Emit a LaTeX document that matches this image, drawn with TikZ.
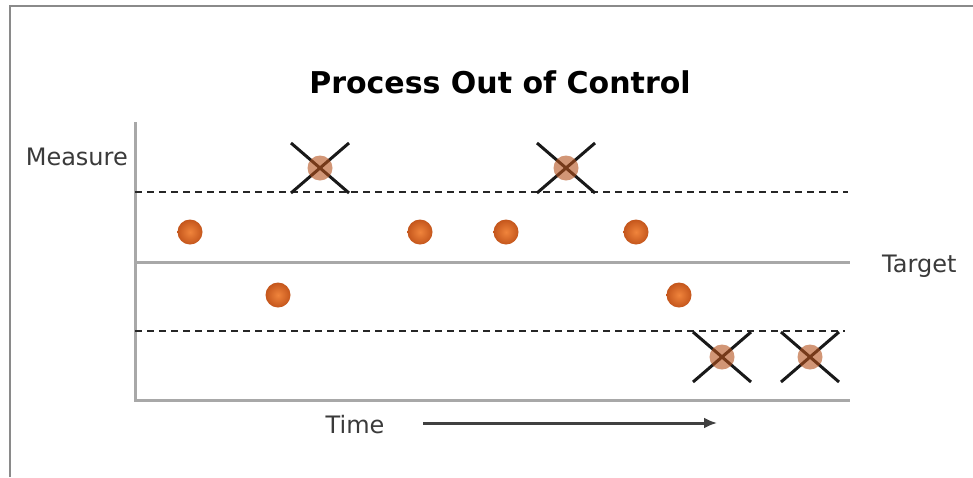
\documentclass[tikz,border=0pt]{standalone}
\usepackage{fontspec}
\setmainfont{DejaVu Sans}
\usetikzlibrary{arrows.meta}
\definecolor{framegray}{HTML}{8A8A8A}
\definecolor{axisgray}{HTML}{A8A8A8}
\definecolor{labelgray}{HTML}{3A3A3A}
\definecolor{dotcore}{HTML}{F0843C}
\definecolor{dotrim}{HTML}{C4561C}
\definecolor{faded}{HTML}{B4501C}
\tikzset{
  frameline/.style={draw=framegray, line width=2.5pt},
  axisline/.style={draw=axisgray, line width=3pt},
  limitline/.style={draw=black!85, line width=2.8pt, dash pattern=on 7pt off 5pt},
  dotnode/.style={circle, minimum size=25pt, inner sep=0pt,
    inner color=dotcore, outer color=dotrim, shading=radial},
  baddot/.style={circle, minimum size=25pt, inner sep=0pt, fill=faded, fill opacity=0.6},
  crossline/.style={draw=black!90, line width=3pt},
  axislabel/.style={text=labelgray, font=\fontsize{24}{28}\selectfont, inner sep=0pt},
  timearrow/.style={draw=black!75, line width=3pt, -{Latex[length=13pt,width=11pt]}}
}
\begin{document}
\begin{tikzpicture}[x=1pt,y=-1pt]
  \useasboundingbox (0,0) rectangle (973,477);
  \fill[white] (0,0) rectangle (973,477);
  % outer frame (top and left edges)
  \coordinate (fbl) at (10,477);
  \coordinate (ftl) at (10,6);
  \coordinate (ftr) at (973,6);
  \draw[frameline] (fbl) -- (ftl) -- (ftr);

  % title
  \node[font=\bfseries\fontsize{30}{36}\selectfont, inner sep=0pt] (title) at (500,82) {Process Out of Control};

  % axes
  \coordinate (ytop) at (135,122);
  \coordinate (origin) at (135,400);
  \coordinate (xend) at (850,400);
  \draw[axisline] (ytop) -- (origin) -- (xend);

  % control limits and target
  \coordinate (ucl0) at (135,192);  \coordinate (ucl1) at (848,192);
  \coordinate (tgt0) at (135,262);  \coordinate (tgt1) at (850,262);
  \coordinate (lcl0) at (135,331);  \coordinate (lcl1) at (845,331);
  \draw[limitline] (ucl0) -- (ucl1);
  \draw[axisline] (tgt0) -- (tgt1);
  \draw[limitline] (lcl0) -- (lcl1);

  % labels
  \node[axislabel, anchor=east] (measure) at (128,157) {Measure};
  \node[axislabel, anchor=west] (target) at (882,266) {Target};
  \node[axislabel] (time) at (355,425) {Time};

  % time arrow
  \coordinate (ta0) at (423,423);
  \coordinate (ta1) at (717,423);
  \draw[timearrow] (ta0) -- (ta1);

  % measurements within limits
  \node[dotnode] (p1) at (190,232) {};
  \node[dotnode] (p2) at (278,295) {};
  \node[dotnode] (p4) at (420,232) {};
  \node[dotnode] (p5) at (506,232) {};
  \node[dotnode] (p7) at (636,232) {};
  \node[dotnode] (p8) at (679,295) {};

  % measurements outside limits, crossed out
  \foreach \nm/\px/\py in {p3/320/168, p6/566/168, p9/722/357, p10/810/357} {
    \draw[crossline] (\px-29,\py-25) -- (\px+29,\py+25);
    \draw[crossline] (\px-29,\py+25) -- (\px+29,\py-25);
    \node[baddot] (\nm) at (\px,\py) {};
  }
\end{tikzpicture}
\end{document}
